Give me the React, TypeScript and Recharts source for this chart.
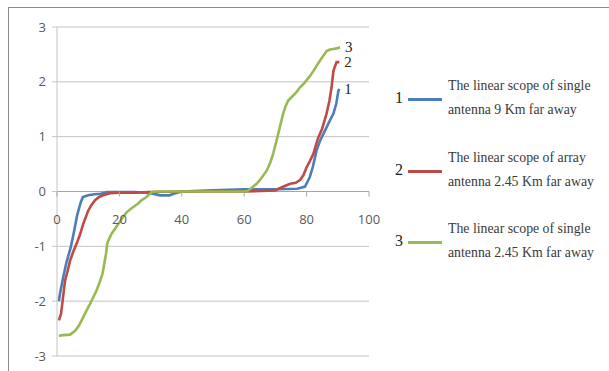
import React from 'react';
import { LineChart, Line, XAxis, YAxis, CartesianGrid, ReferenceLine } from 'recharts';

// distance (x) vs linear scope (y)
const singleFarX = [0.6, 1, 2, 3, 4.4, 5.5, 6.5, 7.6, 8.3, 10, 12, 14, 16, 20, 25, 30, 33, 36, 38, 40, 50, 60, 70, 77, 79.5, 81, 82, 83.2, 84.5, 86.4, 87.5, 88.6, 89.5, 90.2, 90.5];
const singleFarY = [-2.0, -1.85, -1.56, -1.3, -1.02, -0.72, -0.42, -0.2, -0.1, -0.07, -0.05, -0.04, -0.01, -0.01, -0.01, -0.03, -0.07, -0.07, -0.03, 0, 0.02, 0.04, 0.04, 0.05, 0.09, 0.26, 0.45, 0.75, 0.95, 1.17, 1.3, 1.42, 1.6, 1.84, 1.87];

const arrayNearX = [0.6, 1.3, 2, 2.6, 3.4, 4.2, 5.2, 6.3, 7.4, 8.4, 10, 11, 12.2, 13.5, 14.8, 17, 20, 25, 30, 40, 50, 60, 70, 71, 73, 74.7, 76.5, 77.9, 79, 80, 81, 82.2, 83, 83.8, 85, 86.4, 87.3, 88, 88.6, 89.6, 90.5];
const arrayNearY = [-2.35, -2.23, -1.9, -1.62, -1.45, -1.26, -1.1, -0.95, -0.78, -0.59, -0.35, -0.25, -0.16, -0.1, -0.07, -0.03, -0.02, -0.02, -0.01, 0, 0, 0, 0.02, 0.05, 0.1, 0.14, 0.16, 0.21, 0.3, 0.44, 0.55, 0.69, 0.85, 0.99, 1.15, 1.42, 1.65, 1.9, 2.2, 2.36, 2.36];

const singleNearX = [0.6, 2, 4.2, 5.8, 7, 7.9, 9.2, 10.6, 11.7, 12.7, 13.7, 14.6, 15.2, 15.7, 16.1, 16.8, 17.5, 18.6, 19.7, 21, 22.3, 23.6, 25, 26, 27.1, 28.7, 30.4, 32, 40, 50, 60, 61, 62, 64, 65.6, 67.2, 68.3, 69.3, 70.1, 70.9, 71.7, 72.5, 73.3, 74.1, 75.7, 77, 77.9, 79, 80, 81, 82.2, 83.3, 84.3, 85.3, 86.4, 87.5, 88.6, 89.6, 90.7];
const singleNearY = [-2.63, -2.62, -2.61, -2.54, -2.45, -2.35, -2.2, -2.05, -1.92, -1.8, -1.65, -1.5, -1.3, -1.14, -0.95, -0.85, -0.77, -0.68, -0.59, -0.48, -0.38, -0.32, -0.26, -0.22, -0.16, -0.1, -0.01, 0, 0, 0, 0, 0.01, 0.05, 0.14, 0.25, 0.38, 0.52, 0.69, 0.87, 1.05, 1.24, 1.42, 1.56, 1.66, 1.75, 1.83, 1.9, 1.96, 2.03, 2.1, 2.2, 2.3, 2.39, 2.47, 2.56, 2.59, 2.6, 2.61, 2.63];

const xTicks = [0, 20, 40, 60, 80, 100];
const yTicks = [-3, -2, -1, 0, 1, 2, 3];

const seriesNames = [
  ['The linear scope of single', 'antenna 9 Km far away'],
  ['The linear scope of array', 'antenna 2.45 Km far away'],
  ['The linear scope of single', 'antenna 2.45 Km far away'],
];
const seriesColors = ['#4a7ebb', '#be4b48', '#98b954'];

const toPoints = (xs: number[], ys: number[]) => xs.map((x, i) => ({ x, y: ys[i] }));
const series = [
  toPoints(singleFarX, singleFarY),
  toPoints(arrayNearX, arrayNearY),
  toPoints(singleNearX, singleNearY),
];

const W = 609;
const H = 371;
const margin = { top: 27, right: 240, bottom: 14, left: 17 };
const zeroY = margin.top + (H - margin.top - margin.bottom - 1) / 2;
const axisFont = '"Open Sans", "DejaVu Sans", sans-serif';
const serif = '"Liberation Serif", "Times New Roman", serif';

const XTick = ({ x, payload }: any) => (
  <g>
    <line x1={x} x2={x} y1={zeroY} y2={zeroY + 5} stroke="#a6a6a6" />
    <text x={x} y={zeroY + 32} textAnchor="middle" fill="#595959" fontSize={13} fontFamily={axisFont}>
      {payload.value}
    </text>
  </g>
);

const endLabel = (n: number, last: number) => (props: any) => {
  if (props.index !== last) return null;
  return (
    <text x={props.x + 5} y={props.y + 5} fontSize={15} fontFamily={serif} fill="#222">
      {n}
    </text>
  );
};

const LegendBox = () => (
  <div style={{ position: 'absolute', left: 395, top: 77, width: 214, height: 190 }}>
    {seriesNames.map((lines, i) => (
      <div key={i} style={{ position: 'absolute', left: 0, top: i * 71.5, height: 48, width: 214 }}>
        <span style={{ position: 'absolute', left: 0, top: 12, fontFamily: serif, fontSize: 16, lineHeight: '18px', color: '#222' }}>{i + 1}</span>
        <span style={{ position: 'absolute', left: 13, top: 21, width: 34, height: 3, background: seriesColors[i] }} />
        {lines.map((t, j) => (
          <span key={j} style={{ position: 'absolute', left: 53, top: j * 24, whiteSpace: 'nowrap', fontFamily: serif, fontSize: 13.8, lineHeight: '18px', color: '#3a3a3a' }}>
            {t}
          </span>
        ))}
      </div>
    ))}
  </div>
);

export default function App() {
  return (
    <div style={{ position: 'absolute', left: 0, top: 0, width: W, height: H, overflow: 'hidden', background: '#fff' }}>
      <div style={{ position: 'absolute', left: 8, top: 7, width: 700, height: 500, borderTop: '1px solid #8c8c8c', borderLeft: '1px solid #8c8c8c' }} />
      <div style={{ position: 'absolute', left: 0, top: 0 }}>
        <LineChart width={W} height={H} margin={margin}>
          <CartesianGrid vertical={false} stroke="#c4c4c4" />
          <XAxis
            type="number"
            dataKey="x"
            domain={[0, 100]}
            ticks={xTicks}
            height={1}
            axisLine={false}
            tickLine={false}
            tick={<XTick />}
            interval={0}
          />
          <YAxis
            type="number"
            domain={[-3, 3]}
            ticks={yTicks}
            width={40}
            stroke="#c4c4c4"
            tickSize={5}
            tickMargin={6}
            tick={{ fill: '#595959', fontSize: 13, fontFamily: axisFont }}
          />
          <ReferenceLine y={0} stroke="#a6a6a6" />
          {series.map((data, i) => (
            <Line
              key={i}
              data={data}
              dataKey="y"
              stroke={seriesColors[i]}
              strokeWidth={2.6}
              dot={false}
              isAnimationActive={false}
              label={endLabel(i + 1, data.length - 1)}
            />
          ))}
        </LineChart>
      </div>
      <LegendBox />
    </div>
  );
}
